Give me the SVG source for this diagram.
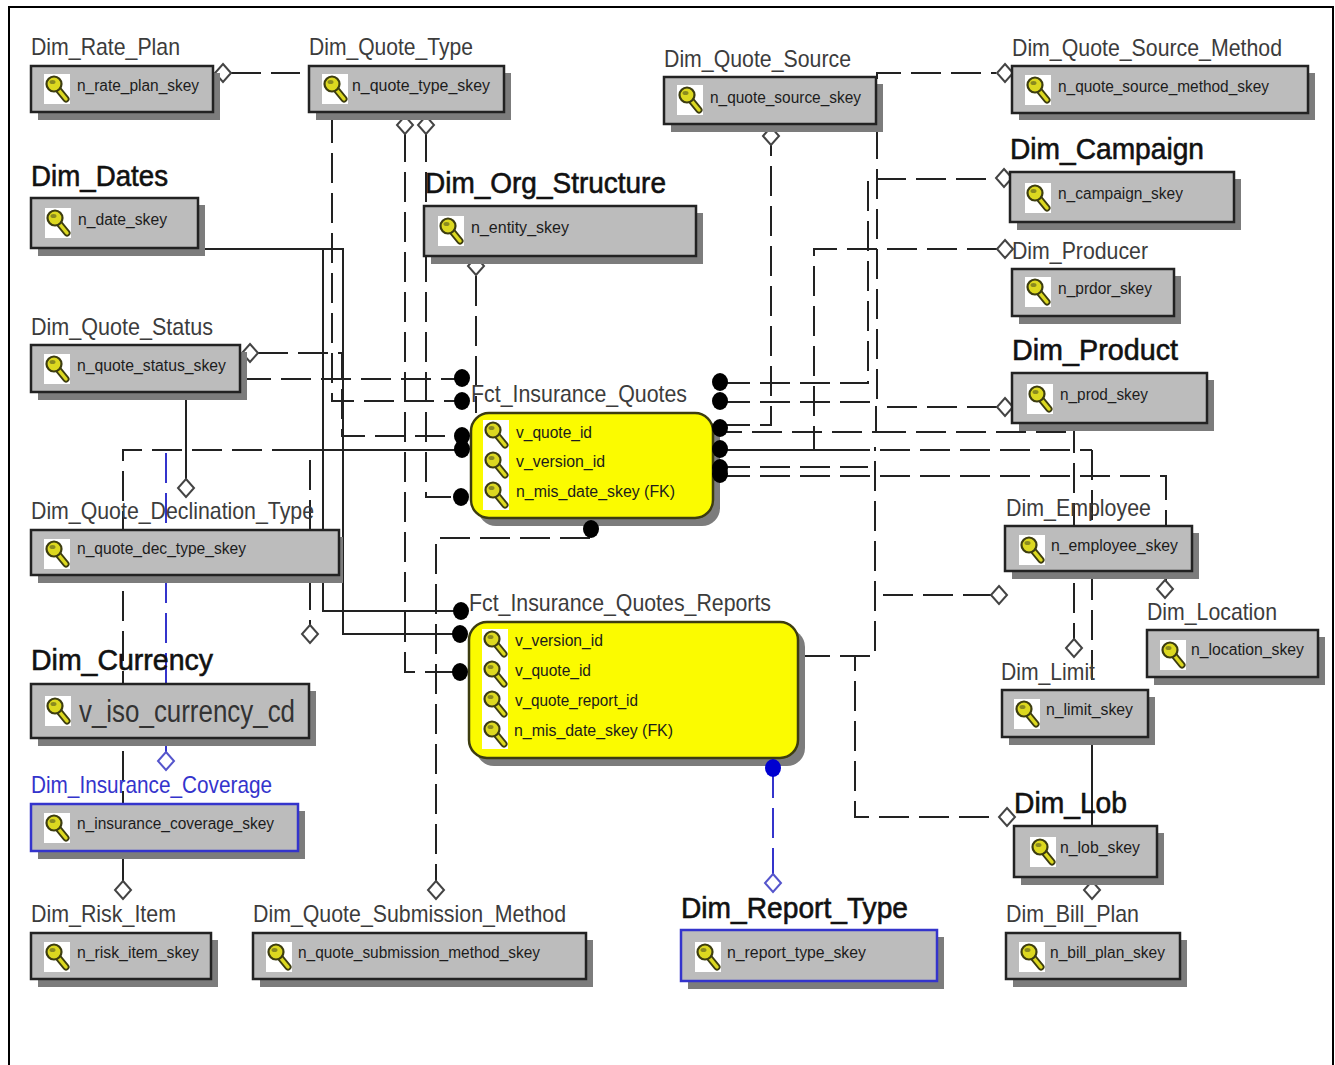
<svg xmlns="http://www.w3.org/2000/svg" width="1335" height="1065" viewBox="0 0 1335 1065">
<style>
text{font-family:"Liberation Sans",Arial,sans-serif}
.l{font-size:24px;fill:#3c3c3c}
.b{font-size:30px;fill:#111;stroke:#111;stroke-width:.6}
.bl{fill:#3434cc}
.a{font-size:16px;fill:#1c1c1c}
.big{font-size:31px;fill:#333}
.box{fill:#bcbcbc;stroke:#222;stroke-width:2.5}
.blue{stroke:#3434cc}
.sh{fill:#7c7c7c}
.fact{fill:#fbfb00;stroke:#3d3d10;stroke-width:2.5}
.c{fill:none;stroke:#222;stroke-width:2;stroke-dasharray:30 10}
.s{fill:none;stroke:#222;stroke-width:2}
.cb{fill:none;stroke:#3434cc;stroke-width:2;stroke-dasharray:30 10}
.dot{fill:#000}
</style>
<defs>
<g id="dia"><path d="M0-9 8 0 0 9-8 0Z" fill="#fff" stroke="#444" stroke-width="2"/></g>
<g id="diab"><path d="M0-9 8 0 0 9-8 0Z" fill="#fff" stroke="#5555cc" stroke-width="2"/></g>
<g id="key">
<rect width="26" height="30" fill="#fff"/>
<path d="M13 14 22 25" stroke="#3d3d10" stroke-width="7" stroke-linecap="round"/>
<path d="M13 14 22 25" stroke="#dcd820" stroke-width="3.5" stroke-linecap="round"/>
<circle cx="10" cy="10" r="7.5" fill="#dcd820" stroke="#3d3d10" stroke-width="2.2"/>
<ellipse cx="8.5" cy="8" rx="3" ry="2" fill="#8a8a20"/>
</g>
</defs>
<rect width="1335" height="1065" fill="#fff"/>
<path d="M9 1065V7H1333V1065" fill="none" stroke="#000" stroke-width="2"/>

<g id="connectors">
<path class="c" d="M231 73H300"/>
<path class="c" d="M332 113V401H462"/>
<path class="c" d="M258 353H342V436H462"/>
<path class="c" d="M241 379H462"/>
<path class="s" d="M198 249H343V634H460"/>
<path class="s" d="M323 249V611H461"/>
<path class="c" d="M405 132V672H460"/>
<path class="c" d="M426 132V497H461"/>
<path class="c" d="M476 276V413"/>
<path class="s" d="M186 392V480"/>
<path class="c" d="M462 450H123V882"/>
<path class="s" d="M295 450H462"/>
<path class="s" d="M123 851V882"/>
<path class="cb" d="M166 453V753"/>
<path class="c" d="M310 460V626"/>
<path class="c" d="M590 538H436V881"/>
<path class="c" d="M720 383H868V179H996"/>
<path class="c" d="M720 402H877V73H996"/>
<path class="c" d="M720 425H771V145"/>
<path class="c" d="M997 407H876V432H720"/>
<path class="c" d="M876 432H1072"/>
<path class="c" d="M1074 423V640"/>
<path class="c" d="M997 249H814V449"/>
<path class="c" d="M1092 450V826"/>
<path class="s" d="M720 450H840"/>
<path class="c" d="M840 450H1092"/>
<path class="s" d="M1092 737V826"/>
<path class="c" d="M720 467H868"/>
<path class="c" d="M720 476H1166V526"/>
<path class="s" d="M1166 571V582"/>
<path class="c" d="M800 656H875V447"/>
<path class="c" d="M883 595H991"/>
<path class="c" d="M800 656H855V817H999"/>
<path class="cb" d="M773 768V874"/>
<use href="#dia" x="223" y="73"/>
<use href="#dia" x="405" y="125"/>
<use href="#dia" x="426" y="125"/>
<use href="#dia" x="250" y="353"/>
<use href="#dia" x="186" y="488"/>
<use href="#dia" x="476" y="266"/>
<use href="#dia" x="771" y="136"/>
<use href="#dia" x="1005" y="73"/>
<use href="#dia" x="1004" y="178"/>
<use href="#dia" x="1005" y="249"/>
<use href="#dia" x="1005" y="407"/>
<use href="#dia" x="999" y="595"/>
<use href="#dia" x="1074" y="648"/>
<use href="#dia" x="1165" y="589"/>
<use href="#dia" x="1007" y="817"/>
<use href="#dia" x="1092" y="890"/>
<use href="#dia" x="310" y="634"/>
<use href="#dia" x="123" y="890"/>
<use href="#dia" x="436" y="890"/>
<use href="#diab" x="166" y="761"/>
<use href="#diab" x="773" y="883"/>
</g>

<g id="Dim_Rate_Plan"><rect class="sh" x="38" y="73" width="182" height="47"/><rect class="box" x="31" y="66" width="182" height="46"/><use href="#key" x="44" y="74"/><text class="l" x="31" y="55" textLength="149" lengthAdjust="spacingAndGlyphs">Dim_Rate_Plan</text><text class="a" x="77" y="91" textLength="122" lengthAdjust="spacingAndGlyphs">n_rate_plan_skey</text></g>
<g id="Dim_Quote_Type"><rect class="sh" x="316" y="73" width="195" height="47"/><rect class="box" x="309" y="66" width="195" height="46"/><use href="#key" x="322" y="74"/><text class="l" x="309" y="55" textLength="164" lengthAdjust="spacingAndGlyphs">Dim_Quote_Type</text><text class="a" x="352" y="91" textLength="138" lengthAdjust="spacingAndGlyphs">n_quote_type_skey</text></g>
<g id="Dim_Quote_Source"><rect class="sh" x="671" y="84" width="212" height="48"/><rect class="box" x="664" y="77" width="212" height="47"/><use href="#key" x="677" y="85"/><text class="l" x="664" y="67" textLength="187" lengthAdjust="spacingAndGlyphs">Dim_Quote_Source</text><text class="a" x="710" y="103" textLength="151" lengthAdjust="spacingAndGlyphs">n_quote_source_skey</text></g>
<g id="Dim_Quote_Source_Method"><rect class="sh" x="1019" y="73" width="296" height="47"/><rect class="box" x="1012" y="66" width="296" height="47"/><use href="#key" x="1025" y="75"/><text class="l" x="1012" y="56" textLength="270" lengthAdjust="spacingAndGlyphs">Dim_Quote_Source_Method</text><text class="a" x="1058" y="92" textLength="211" lengthAdjust="spacingAndGlyphs">n_quote_source_method_skey</text></g>
<g id="Dim_Campaign"><rect class="sh" x="1017" y="179" width="224" height="51"/><rect class="box" x="1010" y="172" width="224" height="50"/><use href="#key" x="1025" y="183"/><text class="b" x="1010" y="159" textLength="194" lengthAdjust="spacingAndGlyphs">Dim_Campaign</text><text class="a" x="1058" y="199" textLength="125" lengthAdjust="spacingAndGlyphs">n_campaign_skey</text></g>
<g id="Dim_Producer"><rect class="sh" x="1019" y="276" width="162" height="48"/><rect class="box" x="1012" y="269" width="162" height="47"/><use href="#key" x="1025" y="277"/><text class="l" x="1012" y="259" textLength="136" lengthAdjust="spacingAndGlyphs">Dim_Producer</text><text class="a" x="1058" y="294" textLength="94" lengthAdjust="spacingAndGlyphs">n_prdor_skey</text></g>
<g id="Dim_Product"><rect class="sh" x="1019" y="380" width="195" height="51"/><rect class="box" x="1012" y="373" width="195" height="50"/><use href="#key" x="1027" y="384"/><text class="b" x="1012" y="360" textLength="166" lengthAdjust="spacingAndGlyphs">Dim_Product</text><text class="a" x="1060" y="400" textLength="88" lengthAdjust="spacingAndGlyphs">n_prod_skey</text></g>
<g id="Dim_Dates"><rect class="sh" x="38" y="205" width="167" height="51"/><rect class="box" x="31" y="198" width="167" height="50"/><use href="#key" x="45" y="208"/><text class="b" x="31" y="186" textLength="137" lengthAdjust="spacingAndGlyphs">Dim_Dates</text><text class="a" x="78" y="225" textLength="89" lengthAdjust="spacingAndGlyphs">n_date_skey</text></g>
<g id="Dim_Org_Structure"><rect class="sh" x="431" y="213" width="272" height="51"/><rect class="box" x="424" y="206" width="272" height="50"/><use href="#key" x="438" y="216"/><text class="b" x="425" y="193" textLength="241" lengthAdjust="spacingAndGlyphs">Dim_Org_Structure</text><text class="a" x="471" y="233" textLength="98" lengthAdjust="spacingAndGlyphs">n_entity_skey</text></g>
<g id="Dim_Quote_Status"><rect class="sh" x="38" y="352" width="209" height="48"/><rect class="box" x="31" y="345" width="209" height="47"/><use href="#key" x="44" y="354"/><text class="l" x="31" y="335" textLength="182" lengthAdjust="spacingAndGlyphs">Dim_Quote_Status</text><text class="a" x="77" y="371" textLength="149" lengthAdjust="spacingAndGlyphs">n_quote_status_skey</text></g>
<g id="Dim_Quote_Declination_Type"><rect class="sh" x="38" y="537" width="305" height="46"/><rect class="box" x="31" y="530" width="308" height="45"/><use href="#key" x="44" y="539"/><text class="l" x="31" y="519" textLength="283" lengthAdjust="spacingAndGlyphs">Dim_Quote_Declination_Type</text><text class="a" x="77" y="554" textLength="169" lengthAdjust="spacingAndGlyphs">n_quote_dec_type_skey</text></g>
<g id="Dim_Currency"><rect class="sh" x="38" y="691" width="278" height="55"/><rect class="box" x="31" y="684" width="278" height="54"/><use href="#key" x="45" y="696"/><text class="b" x="31" y="670" textLength="182" lengthAdjust="spacingAndGlyphs">Dim_Currency</text><text class="big" x="79" y="722" textLength="216" lengthAdjust="spacingAndGlyphs">v_iso_currency_cd</text></g>
<g id="Dim_Insurance_Coverage"><rect class="sh" x="38" y="811" width="267" height="48"/><rect class="box blue" x="31" y="804" width="267" height="47"/><use href="#key" x="44" y="813"/><text class="l bl" x="31" y="793" textLength="241" lengthAdjust="spacingAndGlyphs">Dim_Insurance_Coverage</text><text class="a" x="77" y="829" textLength="197" lengthAdjust="spacingAndGlyphs">n_insurance_coverage_skey</text></g>
<g id="Dim_Risk_Item"><rect class="sh" x="38" y="940" width="180" height="47"/><rect class="box" x="31" y="933" width="180" height="46"/><use href="#key" x="44" y="942"/><text class="l" x="31" y="922" textLength="145" lengthAdjust="spacingAndGlyphs">Dim_Risk_Item</text><text class="a" x="77" y="958" textLength="122" lengthAdjust="spacingAndGlyphs">n_risk_item_skey</text></g>
<g id="Dim_Quote_Submission_Method"><rect class="sh" x="260" y="940" width="333" height="47"/><rect class="box" x="253" y="933" width="333" height="46"/><use href="#key" x="266" y="942"/><text class="l" x="253" y="922" textLength="313" lengthAdjust="spacingAndGlyphs">Dim_Quote_Submission_Method</text><text class="a" x="298" y="958" textLength="242" lengthAdjust="spacingAndGlyphs">n_quote_submission_method_skey</text></g>
<g id="Dim_Report_Type"><rect class="sh" x="688" y="937" width="256" height="52"/><rect class="box blue" x="681" y="930" width="256" height="51"/><use href="#key" x="695" y="942"/><text class="b" x="681" y="918" textLength="227" lengthAdjust="spacingAndGlyphs">Dim_Report_Type</text><text class="a" x="727" y="958" textLength="139" lengthAdjust="spacingAndGlyphs">n_report_type_skey</text></g>
<g id="Dim_Bill_Plan"><rect class="sh" x="1013" y="940" width="174" height="47"/><rect class="box" x="1006" y="933" width="174" height="46"/><use href="#key" x="1019" y="942"/><text class="l" x="1006" y="922" textLength="133" lengthAdjust="spacingAndGlyphs">Dim_Bill_Plan</text><text class="a" x="1050" y="958" textLength="115" lengthAdjust="spacingAndGlyphs">n_bill_plan_skey</text></g>
<g id="Dim_Lob"><rect class="sh" x="1021" y="833" width="143" height="52"/><rect class="box" x="1014" y="826" width="143" height="51"/><use href="#key" x="1030" y="837"/><text class="b" x="1014" y="813" textLength="113" lengthAdjust="spacingAndGlyphs">Dim_Lob</text><text class="a" x="1060" y="853" textLength="80" lengthAdjust="spacingAndGlyphs">n_lob_skey</text></g>
<g id="Dim_Employee"><rect class="sh" x="1012" y="533" width="187" height="46"/><rect class="box" x="1005" y="526" width="187" height="45"/><use href="#key" x="1019" y="535"/><text class="l" x="1006" y="516" textLength="145" lengthAdjust="spacingAndGlyphs">Dim_Employee</text><text class="a" x="1051" y="551" textLength="127" lengthAdjust="spacingAndGlyphs">n_employee_skey</text></g>
<g id="Dim_Location"><rect class="sh" x="1154" y="637" width="171" height="48"/><rect class="box" x="1147" y="630" width="171" height="47"/><use href="#key" x="1160" y="640"/><text class="l" x="1147" y="620" textLength="130" lengthAdjust="spacingAndGlyphs">Dim_Location</text><text class="a" x="1191" y="655" textLength="113" lengthAdjust="spacingAndGlyphs">n_location_skey</text></g>
<g id="Dim_Limit"><rect class="sh" x="1009" y="697" width="146" height="48"/><rect class="box" x="1002" y="690" width="146" height="47"/><use href="#key" x="1014" y="699"/><text class="l" x="1001" y="680" textLength="94" lengthAdjust="spacingAndGlyphs">Dim_Limit</text><text class="a" x="1046" y="715" textLength="87" lengthAdjust="spacingAndGlyphs">n_limit_skey</text></g>

<g id="Fct_Insurance_Quotes"><rect class="sh" x="478" y="420" width="242" height="106" rx="18"/><rect class="fact" x="471" y="413" width="242" height="105" rx="18"/><use href="#key" x="483" y="420"/><use href="#key" x="483" y="450"/><use href="#key" x="483" y="480"/><text class="l" x="471" y="402" textLength="216" lengthAdjust="spacingAndGlyphs">Fct_Insurance_Quotes</text><text class="a" x="516" y="438" textLength="76" lengthAdjust="spacingAndGlyphs">v_quote_id</text><text class="a" x="516" y="467" textLength="89" lengthAdjust="spacingAndGlyphs">v_version_id</text><text class="a" x="516" y="497" textLength="159" lengthAdjust="spacingAndGlyphs">n_mis_date_skey (FK)</text></g>
<g id="Fct_Insurance_Quotes_Reports"><rect class="sh" x="476" y="629" width="329" height="137" rx="18"/><rect class="fact" x="469" y="622" width="329" height="136" rx="18"/><use href="#key" x="482" y="629"/><use href="#key" x="482" y="659"/><use href="#key" x="482" y="689"/><use href="#key" x="482" y="719"/><text class="l" x="469" y="611" textLength="302" lengthAdjust="spacingAndGlyphs">Fct_Insurance_Quotes_Reports</text><text class="a" x="515" y="646" textLength="88" lengthAdjust="spacingAndGlyphs">v_version_id</text><text class="a" x="515" y="676" textLength="76" lengthAdjust="spacingAndGlyphs">v_quote_id</text><text class="a" x="515" y="706" textLength="123" lengthAdjust="spacingAndGlyphs">v_quote_report_id</text><text class="a" x="514" y="736" textLength="159" lengthAdjust="spacingAndGlyphs">n_mis_date_skey (FK)</text></g>

<g id="connector-ends">
<ellipse class="dot" cx="462" cy="378" rx="8" ry="9"/>
<ellipse class="dot" cx="462" cy="401" rx="8" ry="9"/>
<ellipse class="dot" cx="462" cy="436" rx="8" ry="9"/>
<ellipse class="dot" cx="462" cy="449" rx="8" ry="9"/>
<ellipse class="dot" cx="461" cy="497" rx="8" ry="9"/>
<ellipse class="dot" cx="461" cy="611" rx="8" ry="9"/>
<ellipse class="dot" cx="460" cy="634" rx="8" ry="9"/>
<ellipse class="dot" cx="460" cy="672" rx="8" ry="9"/>
<ellipse class="dot" cx="720" cy="382" rx="8" ry="9"/>
<ellipse class="dot" cx="720" cy="401" rx="8" ry="9"/>
<ellipse class="dot" cx="720" cy="428" rx="8" ry="9"/>
<ellipse class="dot" cx="720" cy="449" rx="8" ry="9"/>
<ellipse class="dot" cx="720" cy="468" rx="8" ry="9"/>
<ellipse class="dot" cx="720" cy="474" rx="8" ry="9"/>
<ellipse class="dot" cx="591" cy="529" rx="8" ry="9"/>
<ellipse cx="773" cy="768" rx="8" ry="9" fill="#0000d0"/>
</g>
</svg>
